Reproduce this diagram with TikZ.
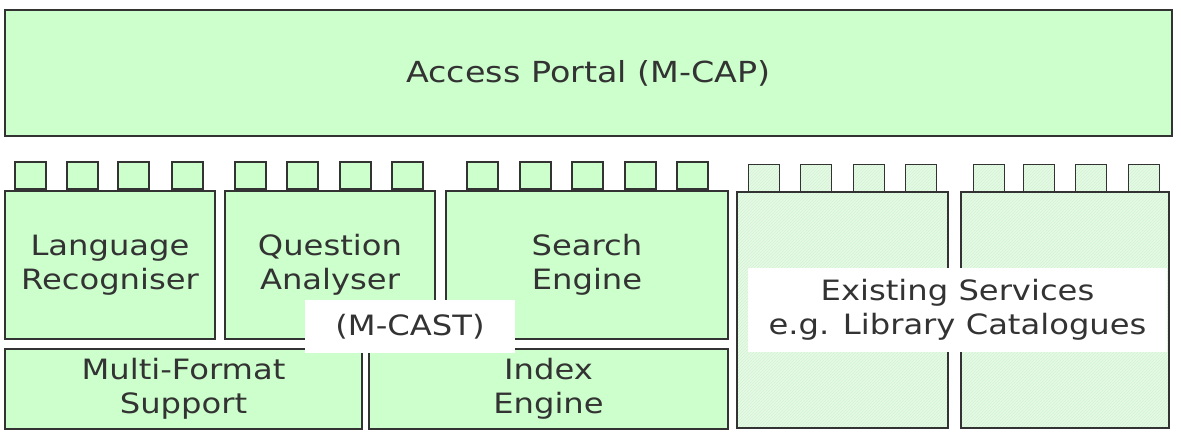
\documentclass[tikz,border=0pt]{standalone}
\usepackage{fontspec}
\setmainfont{DejaVu Sans}[FakeStretch=1.15]
\usetikzlibrary{patterns}
\definecolor{paleGreen}{HTML}{CCFFCC}
\definecolor{hatchGreen}{HTML}{E6FAE6}
\definecolor{hatchLine}{HTML}{D2F2D2}
\definecolor{inkGray}{HTML}{333333}
\tikzset{
	block/.style={draw=inkGray, line width=1.6pt, fill=paleGreen, inner sep=0pt, outer sep=0pt,
		align=center, text=inkGray, font=\fontsize{28}{34}\selectfont},
	tab/.style={block, minimum width=31pt, minimum height=27pt},
	svcblock/.style={block, preaction={fill=hatchGreen}, pattern=north east lines, pattern color=hatchLine},
	svctab/.style={svcblock, minimum width=31pt, minimum height=27pt},
	whitelabel/.style={fill=white, inner sep=0pt, outer sep=0pt, align=center, text=inkGray,
		font=\fontsize{28}{34}\selectfont},
}
\begin{document}
\begin{tikzpicture}[x=1pt, y=-1pt]
	\useasboundingbox (0,0) rectangle (1181,437);
	% portal on top
	\node[block, minimum width=1167pt, minimum height=126pt, font=\fontsize{29}{34}\selectfont] (portal) at (588.5,73) {Access Portal (M-CAP)};
	% interface tabs
	\foreach \x [count=\i] in {15,67,118,172,235,287,340,392,467,520,572,625,677}
		\node[tab] (tab\i) at (\x+15.5,175.5) {};
	\foreach \x [count=\i] in {748,800,853,905,973,1023,1075,1128}
		\node[svctab] (svctab\i) at (\x+16,178) {};
	% M-CAST components
	\node[block, minimum width=210pt, minimum height=148pt] (langrec) at (110,265) {Language\\Recogniser};
	\node[block, minimum width=210pt, minimum height=148pt] (questan) at (330,265) {Question\\Analyser};
	\node[block, minimum width=282pt, minimum height=148pt] (search) at (587,265) {Search\\Engine};
	\node[block, minimum width=357pt, minimum height=80pt] (multifmt) at (183.5,389) {Multi-Format\\Support};
	\node[block, minimum width=359pt, minimum height=80pt] (index) at (548.5,389) {Index\\Engine};
	% existing services
	\node[svcblock, minimum width=211pt, minimum height=236pt] (service1) at (842.5,310) {};
	\node[svcblock, minimum width=208pt, minimum height=236pt] (service2) at (1065,310) {};
	% labels over the boxes
	\node[whitelabel, minimum width=210pt, minimum height=53pt] (mcast) at (410,326.5) {(M-CAST)};
	\node[whitelabel, minimum width=419pt, minimum height=84pt] (services) at (957.5,310) {Existing Services\\e.g. Library Catalogues};
\end{tikzpicture}
\end{document}
